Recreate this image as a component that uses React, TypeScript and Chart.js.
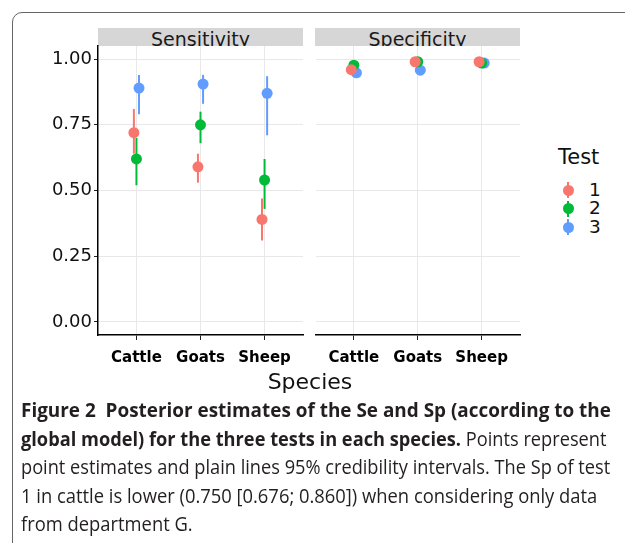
import React, { useEffect, useLayoutEffect, useRef } from "react";
import { Chart, registerables } from "chart.js";

Chart.register(...registerables);

// ---------- data ----------
const species = ["Cattle", "Goats", "Sheep"];
const tests = ["1", "2", "3"];
const testColors = ["#F8766D", "#00BA38", "#619CFF"];
const yTicks = [0, 0.25, 0.5, 0.75, 1];
const yTickLabels = ["0.00", "0.25", "0.50", "0.75", "1.00"];
const panelTitles = ["Sensitivity", "Specificity"];

// Sensitivity (Se): estimates and 95% credibility intervals, per test, per species
const seTest1Est = [0.72, 0.59, 0.39];
const seTest1Lo = [0.64, 0.53, 0.31];
const seTest1Hi = [0.81, 0.64, 0.47];
const seTest2Est = [0.62, 0.75, 0.54];
const seTest2Lo = [0.52, 0.68, 0.43];
const seTest2Hi = [0.70, 0.80, 0.62];
const seTest3Est = [0.89, 0.905, 0.87];
const seTest3Lo = [0.79, 0.83, 0.71];
const seTest3Hi = [0.94, 0.94, 0.935];

// Specificity (Sp)
const spTest1Est = [0.96, 0.99, 0.99];
const spTest1Lo = [0.945, 0.98, 0.98];
const spTest1Hi = [0.97, 0.997, 0.997];
const spTest2Est = [0.977, 0.99, 0.985];
const spTest2Lo = [0.965, 0.98, 0.975];
const spTest2Hi = [0.987, 0.996, 0.992];
const spTest3Est = [0.948, 0.958, 0.985];
const spTest3Lo = [0.935, 0.945, 0.975];
const spTest3Hi = [0.96, 0.968, 0.992];

const captionBold1 = "Figure 2  Posterior estimates of the Se and Sp (according to the";
const captionBold2 = "global model) for the three tests in each species.";
const captionReg2 = " Points represent";
const captionReg3 = "point estimates and plain lines 95% credibility intervals. The Sp of test";
const captionReg4 = "1 in cattle is lower (0.750 [0.676; 0.860]) when considering only data";
const captionReg5 = "from department G.";

// ---------- helpers ----------
const dodge = [-0.04, 0, 0.04];
const FONT = "DejaVu Sans";

const errorBars = {
  id: "errorBars",
  beforeDatasetsDraw(chart: any) {
    const { ctx, chartArea, scales } = chart;
    const x = scales.x;
    const y = scales.y;
    ctx.save();
    ctx.beginPath();
    ctx.rect(chartArea.left, chartArea.top, chartArea.right - chartArea.left, chartArea.bottom - chartArea.top);
    ctx.clip();
    ctx.lineWidth = 2;
    ctx.lineCap = "butt";
    chart.data.datasets.forEach((ds: any) => {
      ctx.strokeStyle = ds.backgroundColor;
      ds.data.forEach((p: any) => {
        const px = x.getPixelForValue(p.x);
        ctx.beginPath();
        ctx.moveTo(px, y.getPixelForValue(p.lo));
        ctx.lineTo(px, y.getPixelForValue(p.hi));
        ctx.stroke();
      });
    });
    ctx.restore();
  },
};

function makeConfig(est: number[][], lo: number[][], hi: number[][], showY: boolean, padding: any) {
  const datasets = tests.map((t, ti) => ({
    type: "scatter" as const,
    label: t,
    data: species.map((_, si) => ({
      x: si + dodge[ti],
      y: est[ti][si],
      lo: lo[ti][si],
      hi: hi[ti][si],
    })),
    backgroundColor: testColors[ti],
    borderColor: testColors[ti],
    pointRadius: 5.5,
    pointBorderWidth: 0,
    pointHoverRadius: 5.5,
  }));
  return {
    type: "scatter" as const,
    data: { datasets },
    plugins: [errorBars],
    options: {
      animation: false,
      responsive: false,
      maintainAspectRatio: false,
      devicePixelRatio: 1,
      layout: { padding },
      plugins: { legend: { display: false }, tooltip: { enabled: false } },
      events: [],
      scales: {
        x: {
          type: "linear",
          min: -0.6,
          max: 2.6,
          afterBuildTicks: (s: any) => {
            s.ticks = species.map((_, i) => ({ value: i }));
          },
          afterFit: (s: any) => {
            s.height = 45;
            s.paddingLeft = 0;
            s.paddingRight = 0;
          },
          ticks: {
            callback: (v: any) => species[Math.round(v)],
            font: { family: FONT, size: 15, weight: "bold" },
            color: "#000",
            padding: 9,
            maxRotation: 0,
            autoSkip: false,
          },
          grid: { color: "#E8E8E8", lineWidth: 1, tickColor: "#222", tickLength: 5 },
          border: { display: true, color: "#000", width: 1.5 },
        },
        y: {
          type: "linear",
          min: -0.05,
          max: 1.05,
          afterBuildTicks: (s: any) => {
            s.ticks = yTicks.map((v) => ({ value: v }));
          },
          afterFit: (s: any) => {
            s.width = showY ? 68 : 0;
            s.paddingTop = 0;
            s.paddingBottom = 0;
          },
          ticks: {
            display: showY,
            callback: (_v: any, i: number) => yTickLabels[i],
            font: { family: FONT, size: 18 },
            color: "#111",
            padding: 2,
          },
          grid: {
            color: "#E8E8E8",
            lineWidth: 1,
            tickColor: "#222",
            tickLength: showY ? 4 : 0,
            drawTicks: showY,
          },
          border: { display: showY, color: "#000", width: 1.5 },
        },
      },
    },
  };
}

function abs(left: number, top: number, extra: any = {}): React.CSSProperties {
  return { position: "absolute", left, top, ...extra };
}

// top for a DejaVu text box with line-height 1 so that its baseline lands at `baseline`
function dvTop(baseline: number, size: number) {
  return baseline - 0.846 * size;
}

export default function App() {
  const leftRef = useRef<HTMLCanvasElement | null>(null);
  const rightRef = useRef<HTMLCanvasElement | null>(null);
  const lineRefs = useRef<(HTMLDivElement | null)[]>([]);

  useEffect(() => {
    const left = new Chart(
      leftRef.current as HTMLCanvasElement,
      makeConfig(
        [seTest1Est, seTest2Est, seTest3Est],
        [seTest1Lo, seTest2Lo, seTest3Lo],
        [seTest1Hi, seTest2Hi, seTest3Hi],
        true,
        { top: 6, right: 7, left: 0, bottom: 0 }
      ) as any
    );
    const right = new Chart(
      rightRef.current as HTMLCanvasElement,
      makeConfig(
        [spTest1Est, spTest2Est, spTest3Est],
        [spTest1Lo, spTest2Lo, spTest3Lo],
        [spTest1Hi, spTest2Hi, spTest3Hi],
        false,
        { top: 6, right: 10, left: 5, bottom: 0 }
      ) as any
    );
    return () => {
      left.destroy();
      right.destroy();
    };
  }, []);

  // fit caption lines horizontally to the reference widths
  useLayoutEffect(() => {
    const targets = [590, 586, 589, 576];
    const fit = () => {
      let last = 1;
      lineRefs.current.forEach((el, i) => {
        if (!el) return;
        const w = el.offsetWidth;
        let k = last;
        if (i < targets.length && w > 0) k = targets[i] / w;
        last = k;
        el.style.transform = `scaleX(${k})`;
      });
    };
    fit();
    if ((document as any).fonts && (document as any).fonts.ready) {
      (document as any).fonts.ready.then(fit);
    }
  }, []);

  const stripStyle = (left: number): React.CSSProperties =>
    abs(left, 28, {
      width: 205,
      height: 18,
      background: "#D6D6D6",
      overflow: "hidden",
      fontFamily: FONT,
      fontSize: 19,
      lineHeight: "19px",
      textAlign: "center",
      color: "#1a1a1a",
      paddingTop: 1.5,
      boxSizing: "border-box",
    });

  const lineStyle: React.CSSProperties = {
    display: "inline-block",
    whiteSpace: "pre",
    transformOrigin: "0 0",
  };

  const legendItems = tests.map((t, i) => {
    const cy = 190 + i * 18.5;
    return (
      <React.Fragment key={t}>
        <div style={abs(567, cy - 8, { width: 2, height: 16, background: testColors[i] })} />
        <div
          style={abs(568 - 5.5, cy - 5.5, {
            width: 11,
            height: 11,
            borderRadius: "50%",
            background: testColors[i],
          })}
        />
        <div
          style={abs(589, dvTop(cy + 6.5, 18.5), {
            fontFamily: FONT,
            fontSize: 18.5,
            lineHeight: "18.5px",
            color: "#111",
          })}
        >
          {t}
        </div>
      </React.Fragment>
    );
  });

  return (
    <div
      style={{
        position: "absolute",
        left: 0,
        top: 0,
        width: 625,
        height: 543,
        overflow: "hidden",
        background: "#fff",
      }}
    >
      <div
        style={abs(12, 12, {
          width: 700,
          height: 600,
          border: "1.3px solid #666",
          borderRadius: 10,
          boxSizing: "border-box",
        })}
      />
      <div style={stripStyle(98)}>{panelTitles[0]}</div>
      <div style={stripStyle(315)}>{panelTitles[1]}</div>
      <canvas ref={leftRef} width={280} height={340} style={abs(30, 40, { width: 280, height: 340 })} />
      <canvas ref={rightRef} width={220} height={340} style={abs(310, 40, { width: 220, height: 340 })} />
      <div
        style={abs(0, dvTop(389.5, 22), {
          width: 620,
          textAlign: "center",
          fontFamily: FONT,
          fontSize: 22,
          lineHeight: "22px",
          color: "#111",
        })}
      >
        Species
      </div>
      <div
        style={abs(558, dvTop(165, 21), {
          fontFamily: FONT,
          fontSize: 21,
          lineHeight: "21px",
          color: "#111",
        })}
      >
        Test
      </div>
      {legendItems}
      <div
        style={abs(20.5, 396.3, {
          fontFamily: "'Open Sans'",
          fontSize: 20,
          lineHeight: "28.4px",
          color: "#231F20",
        })}
      >
        <div>
          <div ref={(el) => { lineRefs.current[0] = el; }} style={lineStyle}>
            <b>{captionBold1}</b>
          </div>
        </div>
        <div>
          <div ref={(el) => { lineRefs.current[1] = el; }} style={lineStyle}>
            <b>{captionBold2}</b>
            {captionReg2}
          </div>
        </div>
        <div>
          <div ref={(el) => { lineRefs.current[2] = el; }} style={lineStyle}>
            {captionReg3}
          </div>
        </div>
        <div>
          <div ref={(el) => { lineRefs.current[3] = el; }} style={lineStyle}>
            {captionReg4}
          </div>
        </div>
        <div>
          <div ref={(el) => { lineRefs.current[4] = el; }} style={lineStyle}>
            {captionReg5}
          </div>
        </div>
      </div>
    </div>
  );
}
